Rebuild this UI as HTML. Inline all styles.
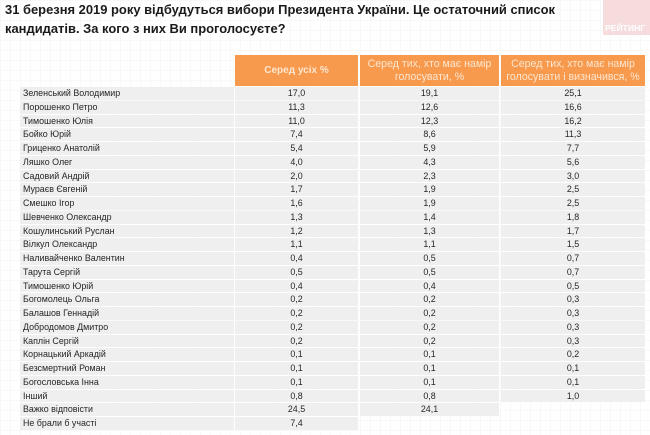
<!DOCTYPE html>
<html><head><meta charset="utf-8">
<style>
*{margin:0;padding:0;box-sizing:border-box}
html,body{width:650px;height:435px;overflow:hidden;background:#fff}
body{position:relative;font-family:"Liberation Sans",Arial,sans-serif;
background-color:#fff;
background-image:linear-gradient(to right,#f8f8f8 1px,transparent 1px),linear-gradient(to bottom,#f8f8f8 1px,transparent 1px);
background-size:10px 10px;}
.title{position:absolute;left:5px;top:1px;font-weight:bold;font-size:12.95px;line-height:18.5px;color:#1a1a1a;white-space:nowrap}
.logo{position:absolute;left:603px;top:0;width:47px;height:35px;background:#f6dcdc}
.logo span{position:absolute;left:2px;top:23px;font-weight:bold;font-size:8.6px;color:#fff;letter-spacing:0}
.hdr{position:absolute;top:55px;height:31px;background:#f79a4e;color:#fde6cf;font-size:10.6px;text-align:center;display:flex;align-items:center;justify-content:center;line-height:13px}
.hdr.b{font-weight:bold;font-size:10px}
.cell{position:absolute;height:12.75px;background:#efefef;font-size:8.9px;color:#262626;line-height:12.75px;white-space:nowrap}
.n{left:20px;width:214px;padding-left:3px}
.c2{left:235px;width:123px;text-align:center}
.c3{left:360px;width:139px;text-align:center}
.c4{left:501px;width:144px;text-align:center}
</style></head><body>
<div class="title">31 березня 2019 року відбудуться вибори Президента України. Це остаточний список<br>кандидатів. За кого з них Ви проголосуєте?</div>
<div class="logo"><span>РЕЙТИНГ</span></div>
<div class="hdr b" style="left:235px;width:123px">Серед усіх %</div>
<div class="hdr" style="left:360px;width:139px">Серед тих, хто має намір<br>голосувати, %</div>
<div class="hdr" style="left:501px;width:144px">Серед тих, хто має намір<br>голосувати і визначився, %</div>
<div class="cell n" style="top:87.0px">Зеленський Володимир</div><div class="cell c2" style="top:87.0px">17,0</div><div class="cell c3" style="top:87.0px">19,1</div><div class="cell c4" style="top:87.0px">25,1</div>
<div class="cell n" style="top:100.75px">Порошенко Петро</div><div class="cell c2" style="top:100.75px">11,3</div><div class="cell c3" style="top:100.75px">12,6</div><div class="cell c4" style="top:100.75px">16,6</div>
<div class="cell n" style="top:114.5px">Тимошенко Юлія</div><div class="cell c2" style="top:114.5px">11,0</div><div class="cell c3" style="top:114.5px">12,3</div><div class="cell c4" style="top:114.5px">16,2</div>
<div class="cell n" style="top:128.25px">Бойко Юрій</div><div class="cell c2" style="top:128.25px">7,4</div><div class="cell c3" style="top:128.25px">8,6</div><div class="cell c4" style="top:128.25px">11,3</div>
<div class="cell n" style="top:142.0px">Гриценко Анатолій</div><div class="cell c2" style="top:142.0px">5,4</div><div class="cell c3" style="top:142.0px">5,9</div><div class="cell c4" style="top:142.0px">7,7</div>
<div class="cell n" style="top:155.75px">Ляшко Олег</div><div class="cell c2" style="top:155.75px">4,0</div><div class="cell c3" style="top:155.75px">4,3</div><div class="cell c4" style="top:155.75px">5,6</div>
<div class="cell n" style="top:169.5px">Садовий Андрій</div><div class="cell c2" style="top:169.5px">2,0</div><div class="cell c3" style="top:169.5px">2,3</div><div class="cell c4" style="top:169.5px">3,0</div>
<div class="cell n" style="top:183.25px">Мураєв Євгеній</div><div class="cell c2" style="top:183.25px">1,7</div><div class="cell c3" style="top:183.25px">1,9</div><div class="cell c4" style="top:183.25px">2,5</div>
<div class="cell n" style="top:197.0px">Смешко Ігор</div><div class="cell c2" style="top:197.0px">1,6</div><div class="cell c3" style="top:197.0px">1,9</div><div class="cell c4" style="top:197.0px">2,5</div>
<div class="cell n" style="top:210.75px">Шевченко Олександр</div><div class="cell c2" style="top:210.75px">1,3</div><div class="cell c3" style="top:210.75px">1,4</div><div class="cell c4" style="top:210.75px">1,8</div>
<div class="cell n" style="top:224.5px">Кошулинський Руслан</div><div class="cell c2" style="top:224.5px">1,2</div><div class="cell c3" style="top:224.5px">1,3</div><div class="cell c4" style="top:224.5px">1,7</div>
<div class="cell n" style="top:238.25px">Вілкул Олександр</div><div class="cell c2" style="top:238.25px">1,1</div><div class="cell c3" style="top:238.25px">1,1</div><div class="cell c4" style="top:238.25px">1,5</div>
<div class="cell n" style="top:252.0px">Наливайченко Валентин</div><div class="cell c2" style="top:252.0px">0,4</div><div class="cell c3" style="top:252.0px">0,5</div><div class="cell c4" style="top:252.0px">0,7</div>
<div class="cell n" style="top:265.75px">Тарута Сергій</div><div class="cell c2" style="top:265.75px">0,5</div><div class="cell c3" style="top:265.75px">0,5</div><div class="cell c4" style="top:265.75px">0,7</div>
<div class="cell n" style="top:279.5px">Тимошенко Юрій</div><div class="cell c2" style="top:279.5px">0,4</div><div class="cell c3" style="top:279.5px">0,4</div><div class="cell c4" style="top:279.5px">0,5</div>
<div class="cell n" style="top:293.25px">Богомолець Ольга</div><div class="cell c2" style="top:293.25px">0,2</div><div class="cell c3" style="top:293.25px">0,2</div><div class="cell c4" style="top:293.25px">0,3</div>
<div class="cell n" style="top:307.0px">Балашов Геннадій</div><div class="cell c2" style="top:307.0px">0,2</div><div class="cell c3" style="top:307.0px">0,2</div><div class="cell c4" style="top:307.0px">0,3</div>
<div class="cell n" style="top:320.75px">Добродомов Дмитро</div><div class="cell c2" style="top:320.75px">0,2</div><div class="cell c3" style="top:320.75px">0,2</div><div class="cell c4" style="top:320.75px">0,3</div>
<div class="cell n" style="top:334.5px">Каплін Сергій</div><div class="cell c2" style="top:334.5px">0,2</div><div class="cell c3" style="top:334.5px">0,2</div><div class="cell c4" style="top:334.5px">0,3</div>
<div class="cell n" style="top:348.25px">Корнацький Аркадій</div><div class="cell c2" style="top:348.25px">0,1</div><div class="cell c3" style="top:348.25px">0,1</div><div class="cell c4" style="top:348.25px">0,2</div>
<div class="cell n" style="top:362.0px">Безсмертний Роман</div><div class="cell c2" style="top:362.0px">0,1</div><div class="cell c3" style="top:362.0px">0,1</div><div class="cell c4" style="top:362.0px">0,1</div>
<div class="cell n" style="top:375.75px">Богословська Інна</div><div class="cell c2" style="top:375.75px">0,1</div><div class="cell c3" style="top:375.75px">0,1</div><div class="cell c4" style="top:375.75px">0,1</div>
<div class="cell n" style="top:389.5px">Інший</div><div class="cell c2" style="top:389.5px">0,8</div><div class="cell c3" style="top:389.5px">0,8</div><div class="cell c4" style="top:389.5px">1,0</div>
<div class="cell n" style="top:403.25px">Важко відповісти</div><div class="cell c2" style="top:403.25px">24,5</div><div class="cell c3" style="top:403.25px">24,1</div>
<div class="cell n" style="top:417.0px">Не брали б участі</div><div class="cell c2" style="top:417.0px">7,4</div>
</body></html>
